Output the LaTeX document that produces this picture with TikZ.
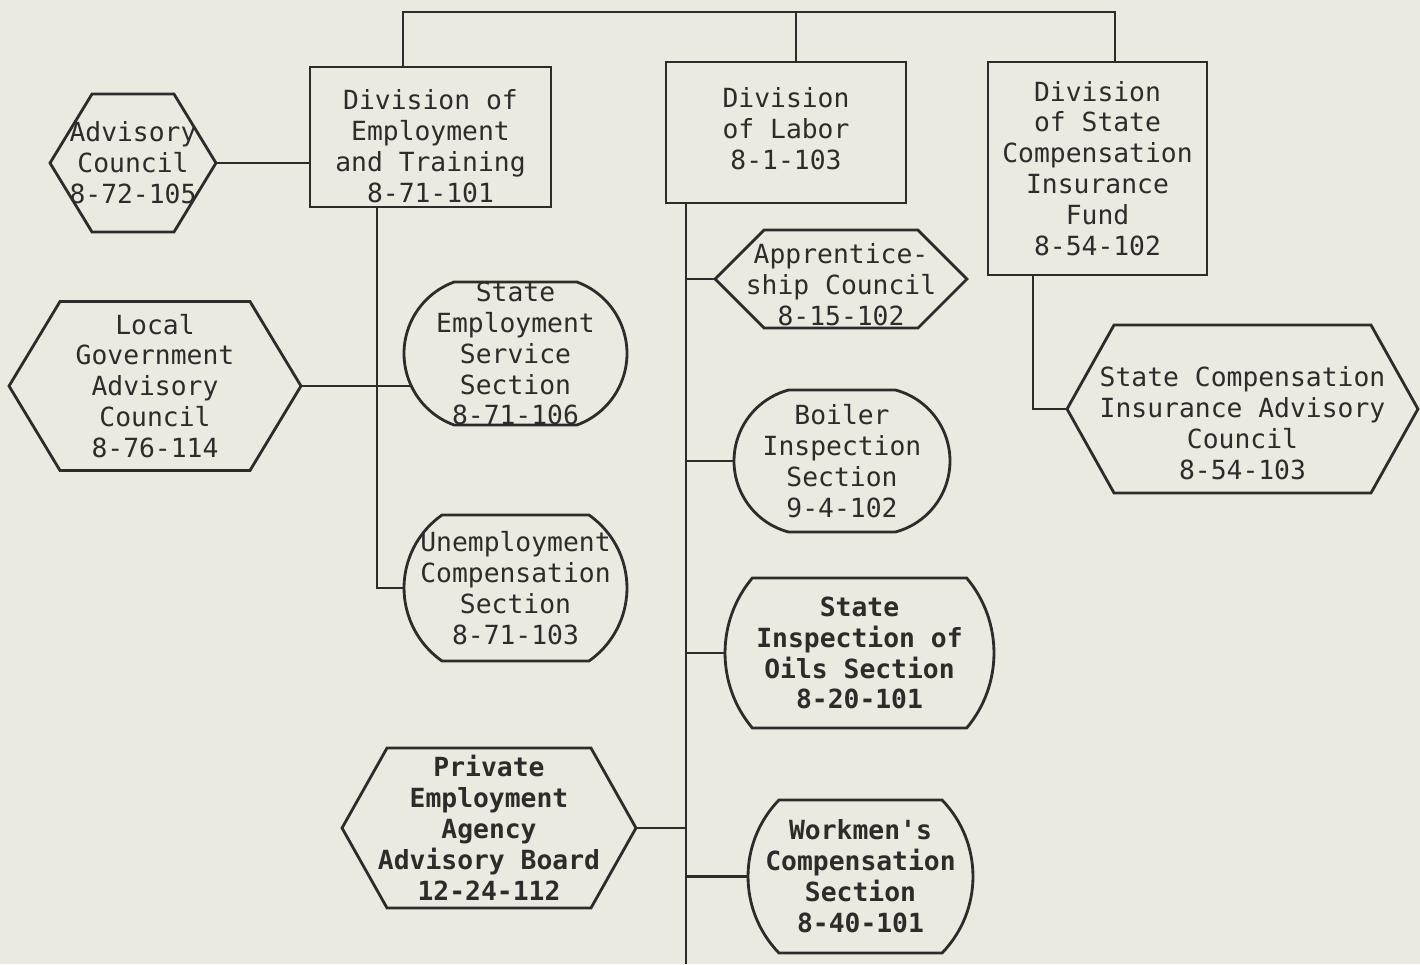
\documentclass[tikz,border=0pt]{standalone}
\usepackage{fontspec}
\usetikzlibrary{shapes.misc, positioning}
\newfontfamily\chartfont{DejaVu Sans Mono}[Ligatures=TeXOff]
\definecolor{paper}{RGB}{236,233,225}
\definecolor{ink}{RGB}{46,44,42}
\tikzset{
  frame/.style={draw=ink, line width=1.6pt},
  conn/.style={draw=ink, line width=1.3pt},
  txt/.style={font=\chartfont\fontsize{15}{17.6}\selectfont, text=ink,
    align=center, inner sep=0pt, outer sep=0pt},
  txtB/.style={font=\chartfont\bfseries\fontsize{15}{17.6}\selectfont},
  dept/.style={frame, rectangle, inner sep=0pt, outer sep=0pt},
  hexa/.style={rectangle, inner sep=0pt, outer sep=0pt},
  sect/.style={frame, rounded rectangle, inner sep=0pt, outer sep=0pt},
}
% hexagon outline round a hexa node, #2 = depth of the points
\newcommand{\hexframe}[2]{%
  \draw[frame] (#1.west) -- ([xshift=#2]#1.north west)
    -- ([xshift=-#2]#1.north east) -- (#1.east)
    -- ([xshift=-#2]#1.south east) -- ([xshift=#2]#1.south west) -- cycle;}

\begin{document}
\begin{tikzpicture}[x=0.02cm, y=-0.02cm]

  \fill[paper] (0,0) rectangle (1420,964);
  \useasboundingbox (0,0) rectangle (1420,964);

  % ---- Divisions at top ----
  \node[dept, minimum width=4.82cm, minimum height=2.8cm,
        label={[txt, yshift=-0.18cm]center:{Division of\\Employment\\and Training\\8-71-101}}]
        (demp) at (430.5,137) {};
  \node[dept, minimum width=4.8cm, minimum height=2.82cm,
        label={[txt, yshift=0.08cm]center:{Division\\of Labor\\8-1-103}}]
        (dlabor) at (786,132.5) {};
  \node[dept, minimum width=4.38cm, minimum height=4.26cm,
        label={[txt]center:{Division\\of State\\Compensation\\Insurance\\Fund\\8-54-102}}]
        (dfund) at (1097.5,168.5) {};

  % ---- Councils ----
  \node[hexa, minimum width=3.32cm, minimum height=2.76cm,
        label={[txt]center:{Advisory\\Council\\8-72-105}}]
        (advc) at (133,163) {};
  \node[hexa, minimum width=5.84cm, minimum height=3.38cm,
        label={[txt]center:{Local\\Government\\Advisory\\Council\\8-76-114}}]
        (lgov) at (155,386) {};
  \node[hexa, minimum width=5.04cm, minimum height=1.96cm,
        label={[txt, yshift=-0.12cm]center:{Apprentice-\\ship Council\\8-15-102}}]
        (appr) at (841,279) {};
  \node[hexa, minimum width=7.02cm, minimum height=3.36cm,
        label={[txt, yshift=-0.28cm]center:{State Compensation\\Insurance Advisory\\Council\\8-54-103}}]
        (scadv) at (1242.5,409) {};
  \node[hexa, minimum width=5.88cm, minimum height=3.2cm,
        label={[txt, txtB]center:{Private\\Employment\\Agency\\Advisory Board\\12-24-112}}]
        (priv) at (489,828) {};

  % ---- Sections ----
  \node[sect, rounded rectangle arc length=140,
        minimum width=4.46cm, minimum height=2.86cm,
        label={[txt]center:{State\\Employment\\Service\\Section\\8-71-106}}]
        (sess) at (515.5,353.5) {};
  \node[sect, rounded rectangle arc length=110,
        minimum width=4.46cm, minimum height=2.92cm,
        label={[txt]center:{Unemployment\\Compensation\\Section\\8-71-103}}]
        (unem) at (515.5,588) {};
  \node[sect, rounded rectangle arc length=150,
        minimum width=4.32cm, minimum height=2.84cm,
        label={[txt]center:{Boiler\\Inspection\\Section\\9-4-102}}]
        (boil) at (842,461) {};
  \node[sect, rounded rectangle arc length=80,
        minimum width=5.38cm, minimum height=3cm,
        label={[txt, txtB]center:{State\\Inspection of\\Oils Section\\8-20-101}}]
        (oils) at (859.5,653) {};
  \node[sect, rounded rectangle arc length=88,
        minimum width=4.5cm, minimum height=3.06cm,
        label={[txt, txtB]center:{Workmen's\\Compensation\\Section\\8-40-101}}]
        (work) at (860.5,876.5) {};

  \hexframe{advc}{0.84cm}
  \hexframe{lgov}{1.02cm}
  \hexframe{appr}{0.98cm}
  \hexframe{scadv}{0.94cm}
  \hexframe{priv}{0.9cm}

  % ---- Lines ----
  \coordinate (busL) at (403,12);
  \coordinate (busM) at (796,12);
  \coordinate (busR) at (1115,12);
  \coordinate (spL) at (377,0);
  \coordinate (spR) at (686,0);
  \coordinate (spRend) at (686,964);
  \coordinate (spF) at (1033,0);

  \draw[conn] (busL |- demp.north) -- (busL) -- (busR) -- (busR |- dfund.north);
  \draw[conn] (busM) -- (busM |- dlabor.north);
  \draw[conn] (advc.east) -- (advc.east -| demp.west);
  \draw[conn] (spL |- demp.south) -- (spL |- unem.west) -- (unem.west);
  \draw[conn] (lgov.east) -- (lgov.east -| sess.196);
  \draw[conn] (spR |- dlabor.south) -- (spRend);
  \draw[conn] (spR |- appr.west) -- (appr.west);
  \draw[conn] (spR |- boil.west) -- (boil.west);
  \draw[conn] (spR |- oils.west) -- (oils.west);
  \draw[conn] (spR |- work.west) -- (work.west);
  \draw[conn] (priv.east) -- (priv.east -| spR);
  \draw[conn] (spF |- dfund.south) |- (scadv.west);
\end{tikzpicture}
\end{document}
